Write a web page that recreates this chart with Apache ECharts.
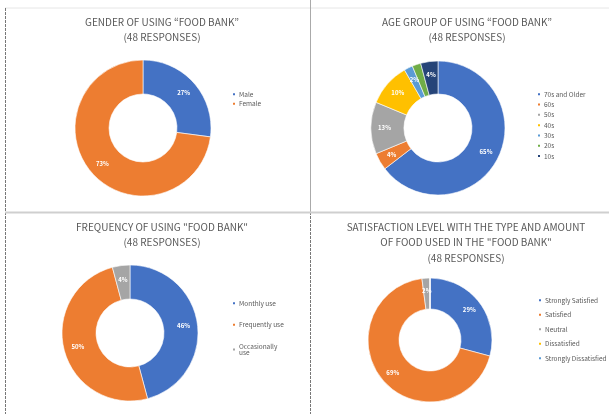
<!DOCTYPE html>
<html>
<head>
<meta charset="utf-8">
<script src="https://cdn.jsdelivr.net/npm/echarts@6/dist/echarts.min.js"></script>
<style>
  html, body { margin: 0; padding: 0; background: #fff; }
  #main { width: 609px; height: 414px; }
</style>
</head>
<body>
<div id="main"></div>
<script>
// 四个环形图（48 份问卷），数值为人数

const genderNames = ['Male', 'Female'];
const genderCounts = [13, 35];

const ageNames = ['70s and Older', '60s', '50s', '40s', '30s', '20s', '10s'];
const ageCounts = [31, 2, 6, 5, 1, 1, 2];

const freqNames = ['Monthly use', 'Frequently use', 'Occasionally use'];
const freqCounts = [22, 24, 2];

const satisNames = ['Strongly Satisfied', 'Satisfied', 'Neutral', 'Dissatisfied', 'Strongly Dissatisfied'];
const satisCounts = [14, 33, 1, 0, 0];

const officeColors = ['#4472C4', '#ED7D31', '#A5A5A5', '#FFC000', '#5B9BD5', '#70AD47', '#264478'];

const titleFont = '"Noto Sans CJK KR", "Noto Sans", sans-serif';
const textGrey = '#595959';

function toData(names, counts) {
  return names.map((n, i) => ({
    name: n,
    value: counts[i],
    itemStyle: { color: officeColors[i] },
  }));
}

function makeTitle(text, cx, top) {
  return {
    text: text,
    left: cx,
    top: top,
    textAlign: 'center',
    textStyle: {
      fontFamily: titleFont,
      fontSize: 10,
      fontWeight: 'normal',
      color: textGrey,
      lineHeight: 15.5,
    },
  };
}

function makeLegend(idx, names, left, top, gap, fmt) {
  return {
    seriesIndex: idx,
    data: names,
    orient: 'vertical',
    left: left,
    top: top,
    itemWidth: 4,
    itemHeight: 4,
    itemGap: gap,
    icon: 'rect',
    selectedMode: false,
    formatter: fmt || (n => n),
    textStyle: {
      fontFamily: titleFont,
      fontSize: 6.5,
      color: textGrey,
      padding: [0, 0, 0, -2],
    },
  };
}

function makePie(names, counts, center, radius) {
  return {
    type: 'pie',
    center: center,
    radius: radius,
    startAngle: 90,
    clockwise: true,
    silent: true,
    avoidLabelOverlap: false,
    percentPrecision: 0,
    itemStyle: { borderColor: '#fff', borderWidth: 0.6 },
    label: {
      show: true,
      position: 'inside',
      formatter: p => (p.value > 0 ? p.percent + '%' : ''),
      color: '#fff',
      fontFamily: titleFont,
      fontSize: 6,
      fontWeight: 'bold',
    },
    labelLine: { show: false },
    data: toData(names, counts),
  };
}

const chart = echarts.init(document.getElementById('main'), null, { renderer: 'canvas' });

chart.setOption({
  backgroundColor: '#fff',
  animation: false,
  title: [
    makeTitle('GENDER OF USING \u201CFOOD BANK\u201D\n(48 RESPONSES)', 157, 9),
    makeTitle('AGE GROUP OF USING \u201CFOOD BANK\u201D\n(48 RESPONSES)', 462, 9),
    makeTitle('FREQUENCY OF USING "FOOD BANK"\n(48 RESPONSES)', 157, 214),
    makeTitle('SATISFACTION LEVEL WITH THE TYPE AND AMOUNT\nOF FOOD USED IN THE "FOOD BANK"\n(48 RESPONSES)', 461, 214),
  ],
  legend: [
    makeLegend(0, genderNames, 226, 86, 3),
    makeLegend(1, ageNames, 531, 86, 3.8),
    makeLegend(2, freqNames, 226, 295, 15, n => (n === 'Occasionally use' ? 'Occasionally\nuse' : n)),
    makeLegend(3, satisNames, 532, 292, 8),
  ],
  series: [
    makePie(genderNames, genderCounts, [143, 128], [34, 68]),
    makePie(ageNames, ageCounts, [438, 128], [34, 67]),
    makePie(freqNames, freqCounts, [130, 333], [34, 68]),
    makePie(satisNames, satisCounts, [430, 340], [31, 62]),
  ],
  graphic: [
    { type: 'line', shape: { x1: 5, y1: 8, x2: 609, y2: 8 }, style: { stroke: '#e6e6e6', lineWidth: 1 }, silent: true },
    { type: 'line', shape: { x1: 5.5, y1: 8, x2: 5.5, y2: 414 }, style: { stroke: '#777', lineWidth: 1, lineDash: [3, 1] }, silent: true },
    { type: 'line', shape: { x1: 310.5, y1: 0, x2: 310.5, y2: 212 }, style: { stroke: '#aaa', lineWidth: 1 }, silent: true },
    { type: 'line', shape: { x1: 310.5, y1: 212, x2: 310.5, y2: 414 }, style: { stroke: '#777', lineWidth: 1, lineDash: [3, 1] }, silent: true },
    { type: 'line', shape: { x1: 5, y1: 212.5, x2: 609, y2: 212.5 }, style: { stroke: '#cfcfcf', lineWidth: 2 }, silent: true },
  ],
});
</script>
</body>
</html>
